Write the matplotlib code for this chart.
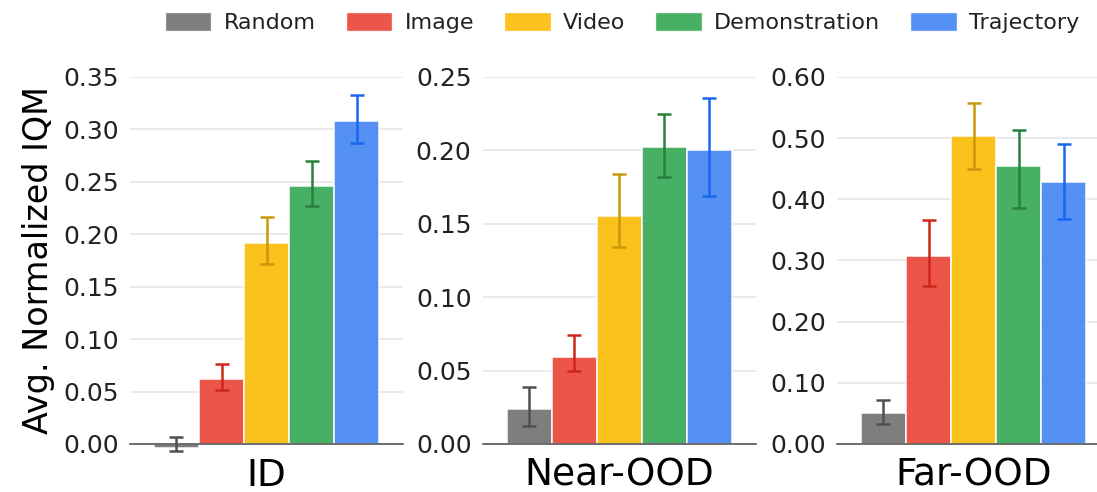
import numpy as np
import matplotlib.pyplot as plt
from matplotlib.patches import Patch

# 数据
methods = ['Random', 'Image', 'Video', 'Demonstration', 'Trajectory']
panels = ['ID', 'Near-OOD', 'Far-OOD']

id_mean = [-0.004, 0.062, 0.192, 0.246, 0.308]
id_lo = [-0.007, 0.051, 0.172, 0.227, 0.287]
id_hi = [0.007, 0.076, 0.216, 0.270, 0.333]

near_mean = [0.024, 0.059, 0.155, 0.202, 0.200]
near_lo = [0.0125, 0.0495, 0.134, 0.182, 0.169]
near_hi = [0.039, 0.074, 0.184, 0.225, 0.236]

far_mean = [0.050, 0.307, 0.503, 0.454, 0.429]
far_lo = [0.033, 0.258, 0.449, 0.386, 0.368]
far_hi = [0.072, 0.366, 0.557, 0.513, 0.490]

yticks = [
    [0.00, 0.05, 0.10, 0.15, 0.20, 0.25, 0.30, 0.35],
    [0.00, 0.05, 0.10, 0.15, 0.20, 0.25],
    [0.00, 0.10, 0.20, 0.30, 0.40, 0.50, 0.60],
]

bar_colors = ['#707070', '#EA4335', '#FBBC04', '#34A853', '#4285F4']
err_colors = ['#505050', '#D0261A', '#C9980A', '#27803C', '#1A66F0']

data = [
    (id_mean, id_lo, id_hi),
    (near_mean, near_lo, near_hi),
    (far_mean, far_lo, far_hi),
]

fig = plt.figure(figsize=(10.97, 4.92), dpi=100)
lefts = [0.1185, 0.440, 0.763]
width = 0.249
bottom = 0.0976
height = 0.746

bar_w = 0.165
xs = (np.arange(len(methods)) - 2) * bar_w

for k, (mean, lo, hi) in enumerate(data):
    ax = fig.add_axes([lefts[k], bottom, width, height])
    mean = np.array(mean)
    yerr = np.array([mean - np.array(lo), np.array(hi) - mean])
    for i in range(len(methods)):
        ax.bar(xs[i], mean[i], width=bar_w, color=bar_colors[i], alpha=0.9,
               edgecolor='white', linewidth=1.2, zorder=2, clip_on=False)
        ax.errorbar(xs[i], mean[i], yerr=yerr[:, i:i + 1], color=err_colors[i],
                    capsize=5, elinewidth=1.8, capthick=1.8, zorder=3, clip_on=False)
    ax.set_xlim(-0.5, 0.5)
    ax.set_ylim(0, yticks[k][-1])
    ax.set_yticks(yticks[k])
    ax.set_yticklabels(['{:.2f}'.format(t) for t in yticks[k]], fontsize=18, color='#222222')
    ax.set_xticks([0])
    ax.set_xticklabels([panels[k]], fontsize=27)
    ax.tick_params(axis='y', length=0, pad=8)
    ax.tick_params(axis='x', length=0, pad=10)
    ax.grid(axis='y', color='#e6e6e6', linewidth=1.2, zorder=0)
    ax.set_axisbelow(True)
    for s in ['left', 'right', 'top']:
        ax.spines[s].set_visible(False)
    ax.spines['bottom'].set_color('#555555')
    ax.spines['bottom'].set_linewidth(1.2)
    if k == 0:
        ax.set_ylabel('Avg. Normalized IQM', fontsize=24, labelpad=6)

handles = [Patch(facecolor=c, edgecolor='white', alpha=0.9, label=m)
           for c, m in zip(bar_colors, methods)]
fig.legend(handles=handles, loc='center', bbox_to_anchor=(0.567, 0.955), ncol=5,
           frameon=False, fontsize=16, handlelength=2.1, handleheight=0.95,
           columnspacing=1.35, handletextpad=0.55, labelcolor='#222222')

plt.savefig('out.png', dpi=100)
